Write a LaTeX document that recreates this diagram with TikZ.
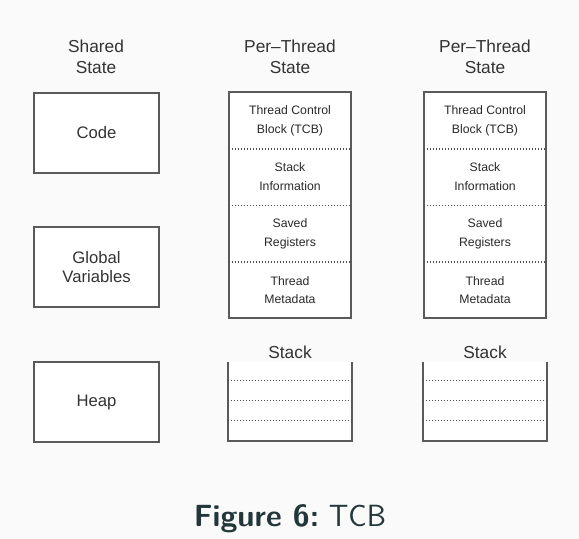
\documentclass[tikz,border=0pt]{standalone}
\usepackage{fontspec}
\setmainfont{Liberation Sans}
\usetikzlibrary{positioning}
\begin{document}
\begin{tikzpicture}[x=0.75pt,y=-0.75pt,
  box/.style={draw=linec,fill=white,line width=1.4pt,minimum width=125*0.75pt,minimum height=80*0.75pt,inner sep=0pt,align=center,font=\fontsize{12.5}{14.5}\selectfont,text=txt},
  sect/.style={minimum width=122*0.75pt,minimum height=56*0.75pt,inner sep=0pt,align=center,font=\fontsize{9.2}{14.2}\selectfont,text=txt2},
  head/.style={align=center,font=\fontsize{13}{15.5}\selectfont,text=txt},
  sep/.style={draw=dotc,line width=1.1pt,dash pattern=on 1.1pt off 1.15pt},
  outline/.style={draw=linec,line width=1.4pt},
  stk/.style={minimum width=124*0.75pt,minimum height=79*0.75pt,inner sep=0pt}]
\definecolor{bg}{HTML}{FAFAFA}
\definecolor{linec}{HTML}{5A5A5A}
\definecolor{dotc}{HTML}{505050}
\definecolor{txt}{HTML}{333333}
\definecolor{txt2}{HTML}{2A2A2A}
\definecolor{capc}{HTML}{23373B}
\fill[bg] (0,0) rectangle (579,539);
\useasboundingbox (0,0) rectangle (579,539);
% headers
\node[head] (hs) at (96,57) {Shared\\State};
\node[head] (hp1) at (290,57) {Per--Thread\\State};
\node[head] (hp2) at (485,57) {Per--Thread\\State};
% shared boxes
\node[box] (code) at (96.5,133) {Code};
\node[box] (glob) at (96.5,267) {Global\\Variables};
\node[box] (heap) at (96.5,402) {Heap};
% per-thread columns
\foreach \c/\x in {a/290,b/485}{
  \fill[white] (\x-61,93) rectangle (\x+61,317);
  \node[sect] (\c1) at (\x,120.5) {Thread Control\\Block (TCB)};
  \node[sect,below=0pt of \c1] (\c2) {Stack\\Information};
  \node[sect,below=0pt of \c2] (\c3) {Saved\\Registers};
  \node[sect,below=0pt of \c3] (\c4) {Thread\\Metadata};
  \draw[outline] (\c1.north west) rectangle (\c4.south east);
  \draw[sep] (\c1.south west) -- (\c1.south east);
  \draw[sep] (\c2.south west) -- (\c2.south east);
  \draw[sep] (\c3.south west) -- (\c3.south east);
  \node[head] (\c lbl) at (\x,352) {Stack};
  \node[stk,fill=white] (\c st) at (\x,401.5) {};
  \draw[outline] (\c st.north west) -- (\c st.south west) -- (\c st.south east) -- (\c st.north east);
  \draw[sep] ([yshift=-19*0.75pt]\c st.north west) -- ([yshift=-19*0.75pt]\c st.north east);
  \draw[sep] ([yshift=-39*0.75pt]\c st.north west) -- ([yshift=-39*0.75pt]\c st.north east);
  \draw[sep] ([yshift=-59*0.75pt]\c st.north west) -- ([yshift=-59*0.75pt]\c st.north east);
}
% caption
\node[text=capc,font=\sffamily\fontsize{23}{26}\selectfont] (cap) at (290,519) {\textbf{Figure 6:}\ TCB};
\end{tikzpicture}
\end{document}
